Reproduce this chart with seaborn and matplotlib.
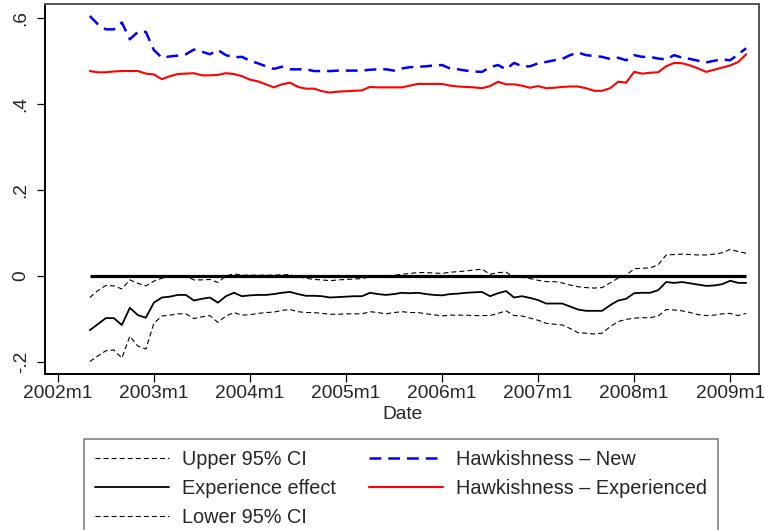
import pandas as pd
import matplotlib
import matplotlib.pyplot as plt
import seaborn as sns

matplotlib.use("Agg")
sns.set_theme(style="white")
plt.rcParams['font.family'] = ['Liberation Sans', 'DejaVu Sans']
plt.rcParams['lines.scale_dashes'] = False

# monthly series, 2002m5 .. 2009m3
dates = pd.period_range("2002-05", "2009-03", freq="M")

hawk_new = [
    0.605, 0.586, 0.574, 0.574, 0.590, 0.551, 0.568, 0.568,
    0.526, 0.508, 0.511, 0.513, 0.516, 0.527, 0.522, 0.516, 0.526, 0.514, 0.509, 0.510,
    0.501, 0.495, 0.488, 0.482, 0.487, 0.481, 0.481, 0.481, 0.477, 0.477, 0.477, 0.478,
    0.478, 0.478, 0.478, 0.480, 0.481, 0.481, 0.478, 0.483, 0.486, 0.487, 0.488, 0.490,
    0.491, 0.483, 0.481, 0.478, 0.476, 0.475, 0.486, 0.491, 0.481, 0.496, 0.488, 0.488,
    0.495, 0.498, 0.502, 0.505, 0.514, 0.520, 0.514, 0.512, 0.510, 0.505, 0.508, 0.502,
    0.514, 0.510, 0.510, 0.506, 0.504, 0.514, 0.508, 0.505, 0.501, 0.497, 0.501, 0.504,
    0.502, 0.516, 0.530,
]
hawk_exp = [
    0.477, 0.474, 0.474, 0.476, 0.477, 0.477, 0.477, 0.471,
    0.469, 0.458, 0.465, 0.470, 0.471, 0.472, 0.467, 0.467, 0.468, 0.472, 0.470, 0.465,
    0.457, 0.453, 0.446, 0.439, 0.446, 0.450, 0.440, 0.436, 0.436, 0.430, 0.427, 0.429,
    0.430, 0.431, 0.432, 0.440, 0.439, 0.439, 0.439, 0.439, 0.443, 0.447, 0.447, 0.447,
    0.447, 0.443, 0.441, 0.440, 0.439, 0.437, 0.442, 0.452, 0.446, 0.446, 0.443, 0.438,
    0.442, 0.437, 0.438, 0.440, 0.441, 0.441, 0.437, 0.431, 0.431, 0.437, 0.452, 0.450,
    0.475, 0.471, 0.473, 0.474, 0.488, 0.496, 0.495, 0.490, 0.483, 0.475, 0.480, 0.485,
    0.490, 0.498, 0.516,
]
exp_effect = [
    -0.126, -0.112, -0.098, -0.098, -0.114, -0.074, -0.091, -0.097,
    -0.062, -0.050, -0.048, -0.044, -0.044, -0.057, -0.053, -0.050, -0.062, -0.047, -0.039, -0.047,
    -0.045, -0.044, -0.044, -0.042, -0.039, -0.037, -0.042, -0.046, -0.046, -0.047, -0.050, -0.049,
    -0.048, -0.047, -0.047, -0.039, -0.042, -0.044, -0.042, -0.039, -0.040, -0.039, -0.042, -0.044,
    -0.045, -0.042, -0.041, -0.039, -0.038, -0.037, -0.047, -0.040, -0.035, -0.050, -0.047, -0.051,
    -0.056, -0.064, -0.064, -0.064, -0.071, -0.078, -0.081, -0.081, -0.081, -0.068, -0.057, -0.053,
    -0.040, -0.039, -0.039, -0.033, -0.014, -0.016, -0.014, -0.017, -0.020, -0.023, -0.022, -0.019,
    -0.011, -0.016, -0.016,
]
ci_upper = [
    -0.050, -0.034, -0.022, -0.023, -0.030, -0.009, -0.017, -0.023,
    -0.012, -0.005, -0.002, 0.000, 0.000, -0.009, -0.009, -0.008, -0.015, 0.000, 0.005, 0.002,
    0.002, 0.002, 0.002, 0.002, 0.003, 0.003, -0.002, -0.005, -0.008, -0.009, -0.011, -0.009,
    -0.008, -0.007, -0.006, -0.002, 0.000, 0.000, 0.002, 0.004, 0.006, 0.008, 0.008, 0.007,
    0.006, 0.009, 0.010, 0.012, 0.014, 0.016, 0.004, 0.008, 0.009, -0.003, -0.003, -0.006,
    -0.010, -0.013, -0.013, -0.016, -0.021, -0.025, -0.027, -0.028, -0.027, -0.016, -0.005, 0.002,
    0.017, 0.018, 0.019, 0.026, 0.049, 0.050, 0.051, 0.050, 0.049, 0.049, 0.051, 0.054,
    0.062, 0.057, 0.053,
]
ci_lower = [
    -0.199, -0.186, -0.174, -0.172, -0.191, -0.140, -0.163, -0.170,
    -0.110, -0.093, -0.091, -0.088, -0.088, -0.099, -0.095, -0.092, -0.108, -0.093, -0.085, -0.091,
    -0.090, -0.087, -0.085, -0.084, -0.080, -0.078, -0.083, -0.085, -0.085, -0.087, -0.089, -0.089,
    -0.088, -0.088, -0.088, -0.083, -0.085, -0.088, -0.085, -0.083, -0.085, -0.085, -0.088, -0.090,
    -0.093, -0.091, -0.091, -0.091, -0.092, -0.092, -0.092, -0.087, -0.081, -0.092, -0.093, -0.098,
    -0.103, -0.110, -0.112, -0.114, -0.122, -0.132, -0.133, -0.135, -0.133, -0.118, -0.106, -0.101,
    -0.098, -0.097, -0.097, -0.093, -0.078, -0.079, -0.081, -0.085, -0.090, -0.092, -0.091, -0.088,
    -0.087, -0.092, -0.087,
]

tick_years = list(range(2002, 2010))
tick_labels = [f"{y}m1" for y in tick_years]
y_ticks = [-0.2, 0, 0.2, 0.4, 0.6]
y_labels = ["-.2", "0", ".2", ".4", ".6"]

# months since 2002m1, like a Stata %tm axis
df = pd.DataFrame({
    "month": (dates.year - 2002) * 12 + dates.month - 1,
    "ci_upper": ci_upper,
    "exp_effect": exp_effect,
    "ci_lower": ci_lower,
    "hawk_new": hawk_new,
    "hawk_exp": hawk_exp,
})

fig = plt.figure(figsize=(7.65, 5.30), dpi=100)
ax = fig.add_axes([45 / 765, 1 - 374 / 530, 714 / 765, 370 / 530])

ax.hlines(0, df["month"].min(), df["month"].max(), color="black", lw=2.3, zorder=2)

ci_ls = (0, (3.6, 2.2))
sns.lineplot(data=df, x="month", y="ci_upper", ax=ax, color="black", lw=0.8,
             linestyle=ci_ls, estimator=None, label="Upper 95% CI")
sns.lineplot(data=df, x="month", y="exp_effect", ax=ax, color="black", lw=1.3,
             estimator=None, label="Experience effect")
sns.lineplot(data=df, x="month", y="ci_lower", ax=ax, color="black", lw=0.8,
             linestyle=ci_ls, estimator=None, label="Lower 95% CI")
sns.lineplot(data=df, x="month", y="hawk_new", ax=ax, color="#0000ff", lw=1.8,
             linestyle=(0, (8.5, 5)), estimator=None, label="Hawkishness \u2013 New")
sns.lineplot(data=df, x="month", y="hawk_exp", ax=ax, color="#ff0000", lw=1.5,
             estimator=None, label="Hawkishness \u2013 Experienced")

ax.set_xlim(-1.6, 87.6)
ax.set_ylim(-0.228, 0.633)
ax.set_xticks([(y - 2002) * 12 for y in tick_years])
ax.set_xticklabels(tick_labels, fontsize=13.8)
ax.set_yticks(y_ticks)
ax.set_yticklabels(y_labels, rotation=90, va="center", fontsize=13.8)
ax.tick_params(axis="both", direction="out", length=6, width=0.9, color="black",
               left=True, bottom=True)
ax.tick_params(axis="x", pad=2)
ax.tick_params(axis="y", pad=5)
ax.set_xlabel("Date", fontsize=13.8, labelpad=3)
ax.set_ylabel("")

for side in ["left", "bottom"]:
    ax.spines[side].set_color("black")
    ax.spines[side].set_linewidth(1.4)
for side in ["top", "right"]:
    ax.spines[side].set_color("#555555")
    ax.spines[side].set_linewidth(1.4)

handles, labels = ax.get_legend_handles_labels()
ax.get_legend().remove()
leg = fig.legend(handles, labels, ncol=2, loc="upper center",
                 bbox_to_anchor=(401 / 765, 1 - 439 / 530), frameon=True,
                 fancybox=False, edgecolor="#555555", fontsize=14.3,
                 handlelength=3.73, handletextpad=0.65, columnspacing=1.7,
                 labelspacing=0.5, borderpad=0.55, borderaxespad=0)
leg.get_frame().set_linewidth(1.1)

fig.savefig("out.png", dpi=100, facecolor="white")
